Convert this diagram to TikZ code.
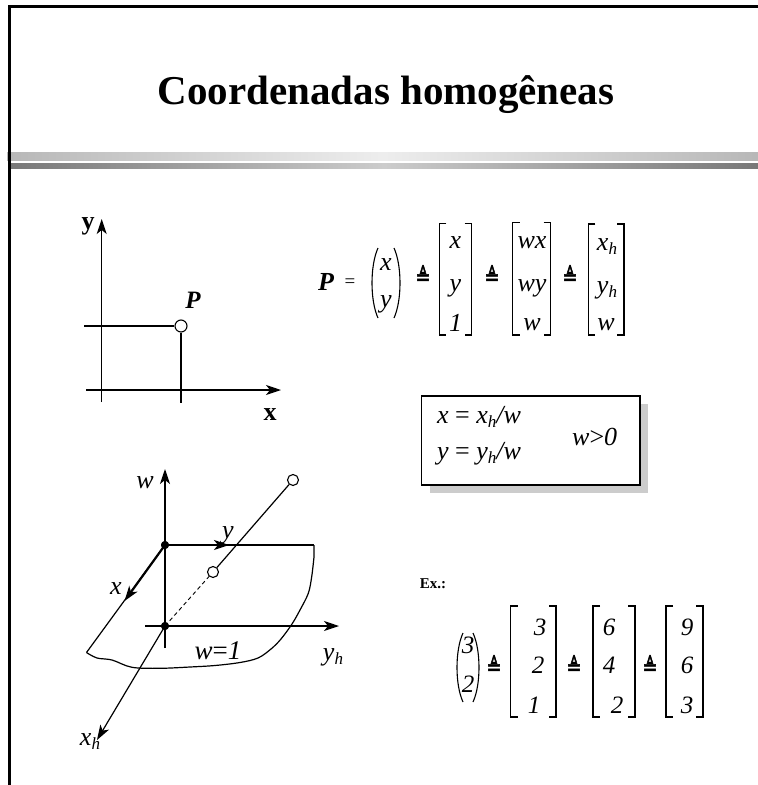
\documentclass[tikz,border=0pt]{standalone}
\usepackage{fontspec}
\usepackage{graphicx}
\setmainfont{Liberation Serif}
\setsansfont{Liberation Sans}
\newfontfamily\symfont[FakeBold=2.5]{DejaVu Sans}
\usetikzlibrary{arrows.meta}
\definecolor{barlightedge}{gray}{0.72}
\definecolor{barlightmid}{gray}{0.93}
\definecolor{bardarkedge}{gray}{0.47}
\definecolor{bardarkmid}{gray}{0.80}
\definecolor{shadowgray}{gray}{0.80}
\newcommand\subh{\raisebox{-4.5pt}{\fontsize{17}{17}\selectfont\itshape h}}
\newcommand\deqtxt{\scalebox{0.78}[1]{≜}}
\newcommand\sqbrk[4]{%
  \draw[brk] ({#1+7},#3) -- (#1,#3) -- (#1,#4) -- ({#1+7},#4);
  \draw[brk] ({#2-7},#3) -- (#2,#3) -- (#2,#4) -- ({#2-7},#4);}
\newcommand\rdparen[5]{% left-inner x, right-inner x, top, bottom, bulge
  \draw[brk] (#1,#3) .. controls ({#1-#5},{#3+0.25*(#4-#3)}) and ({#1-#5},{#3+0.75*(#4-#3)}) .. (#1,#4);
  \draw[brk] (#2,#3) .. controls ({#2+#5},{#3+0.25*(#4-#3)}) and ({#2+#5},{#3+0.75*(#4-#3)}) .. (#2,#4);}
\begin{document}
\begin{tikzpicture}[x=1pt,y=-1pt,
  ln/.style={line width=1.2pt},
  brk/.style={line width=1.1pt},
  arr/.style={line width=1.2pt,-{Stealth[length=15pt,width=10pt,inset=4pt]}},
  tarr/.style={line width=2.2pt,-{Stealth[length=15pt,width=10pt,inset=4pt]}},
  opc/.style={circle,draw,fill=white,line width=1.1pt,minimum size=12pt,inner sep=0pt},
  dotn/.style={circle,fill=black,minimum size=8pt,inner sep=0pt},
  ent/.style={font=\fontsize{26}{26}\selectfont\itshape,inner sep=0pt,anchor=base},
  dig/.style={font=\fontsize{25}{25}\selectfont\itshape,inner sep=0pt,anchor=base},
  lbl/.style={font=\fontsize{26}{26}\selectfont\itshape,inner sep=0pt,anchor=base},
  blbl/.style={font=\fontsize{26}{26}\selectfont\bfseries,inner sep=0pt,anchor=base},
  deqst/.style={font=\fontsize{23}{23}\selectfont\symfont,inner sep=0pt}]
\useasboundingbox (0,0) rectangle (758,785);
% bars
\shade[left color=barlightedge,right color=barlightedge,middle color=barlightmid] (7,152) rectangle (758,160);
\shade[left color=bardarkedge,right color=bardarkedge,middle color=bardarkmid] (10,163) rectangle (758,168.5);
% frame
\draw[line width=3pt] (762,6) -- (9,6) -- (9,785);
% title
\node[font=\fontsize{41}{41}\selectfont\bfseries,anchor=base,inner sep=0pt] (title) at (386,104) {Coordenadas homogêneas};

% ---- 2D axes
\coordinate (ya0) at (101.7,402);
\coordinate (ya1) at (101.7,219);
\coordinate (xa0) at (86,390);
\coordinate (xa1) at (281,390);
\draw[arr] (ya0) -- (ya1);
\draw[arr] (xa0) -- (xa1);
\node[opc] (P) at (181,326) {};
\coordinate (hl0) at (84,326);
\coordinate (vl0) at (181,403);
\draw[ln] (hl0) -- (P.west);
\draw[ln] (P.south) -- (vl0);
\node[blbl] (ylab) at (88,229) {y};
\node[blbl] (xlab) at (270,420) {x};
\node[blbl,font=\fontsize{25}{25}\selectfont\bfseries\itshape] (Plab) at (193,308) {P};

% ---- equation
\node[font=\fontsize{26}{26}\selectfont\bfseries\itshape,inner sep=0pt,anchor=base] (Peq) at (326,290) {P};
\node[font=\fontsize{19}{19}\selectfont,inner sep=0pt] (eqs) at (350,283) {=};
\rdparen{378}{394}{248}{318}{8}
\node[ent] (v1) at (386,270) {x};
\node[ent] (v2) at (386,307) {y};
\node[deqst] (d1) at (423,275) {\deqtxt};
\sqbrk{439.3}{471.7}{223.3}{335}
\node[ent] (a1) at (455.5,248.3) {x};
\node[ent] (a2) at (455.5,291.5) {y};
\node[ent] (a3) at (455.5,331) {1};
\node[deqst] (d2) at (492,275) {\deqtxt};
\sqbrk{512.7}{550.7}{222.7}{335}
\node[ent] (b1) at (532,248.3) {wx};
\node[ent] (b2) at (532,291.5) {wy};
\node[ent] (b3) at (532,330) {w};
\node[deqst] (d3) at (570,275) {\deqtxt};
\sqbrk{588.3}{624}{224}{335}
\node[ent] (c1) at (607,250) {x\subh};
\node[ent] (c2) at (607,293) {y\subh};
\node[ent] (c3) at (606,330) {w};

% ---- box
\fill[shadowgray] (430,404) rectangle (648,493);
\draw[fill=white,line width=1.1pt] (421.7,396) rectangle (640,485);
\node[lbl,anchor=base west] (bx1) at (437,423) {x {\upshape=} x\subh/w};
\node[lbl,anchor=base west] (bx2) at (437,459) {y {\upshape=} y\subh/w};
\node[lbl,anchor=base west] (bx3) at (572,445) {w{\upshape >}0};

% ---- 3D diagram
\coordinate (wb) at (165,648);
\coordinate (wt) at (165,469);
\draw[arr] (wb) -- (wt);
\node[dotn] (o1) at (165,545) {};
\node[dotn] (o0) at (165,626) {};
\coordinate (pTR) at (314,545);
\coordinate (pBL) at (86.5,652.5);
\draw[ln] (o1.center) -- (pTR);
\draw[ln] (pTR) -- (314,557) plot[smooth,tension=0.55] coordinates {(314,557) (311.7,576.7) (308.3,593.3) (300,610) (292,624) (281,639) (271,649) (258,658) (240,662.5) (215,665.5) (190,667) (160,668.3) (132,667.3) (112,660) (97,658) (86.5,652.5)};
\draw[ln] (o1.center) -- (pBL);
\coordinate (xtip) at (124.5,601);
\coordinate (ytip) at (229,545);
\draw[tarr] (o1.center) -- (xtip);
\draw[tarr] (o1.center) -- (ytip);
\coordinate (yh0) at (145,626);
\coordinate (yh1) at (339,626);
\draw[arr] (yh0) -- (yh1);
\coordinate (xh1) at (97,740);
\draw[arr] (o0.center) -- (xh1);
\node[opc,minimum size=11pt] (q1) at (213,572) {};
\node[opc,minimum size=11pt] (q2) at (293,480) {};
\draw[ln] (q1) -- (q2);
\draw[line width=0.9pt,dash pattern=on 4pt off 3pt] (o0.center) -- (q1);
\node[dotn] at (o1) {};
\node[dotn] at (o0) {};
\node[lbl] (wlab) at (145,488) {w};
\node[lbl] (ylab3) at (228,538) {y};
\node[lbl] (xlab3) at (116,594) {x};
\node[lbl,font=\fontsize{27}{27}\selectfont\itshape] (w1lab) at (218,659) {w{\upshape =}1};
\node[lbl] (yhlab) at (333,660) {y\subh};
\node[lbl] (xhlab) at (90,745) {x\subh};

% ---- example
\node[font=\fontsize{15}{15}\selectfont\bfseries,inner sep=0pt,anchor=base] (ex) at (433,588) {Ex.:};
\rdparen{463}{473}{633}{702}{8}
\node[dig] (e1) at (468,653) {3};
\node[dig] (e2) at (468,692) {2};
\node[deqst] (f1) at (494,665) {\deqtxt};
\sqbrk{510.7}{556}{606}{717}
\node[dig] (g1) at (540,635) {3};
\node[dig] (g2) at (538,673) {2};
\node[dig] (g3) at (534,713) {1};
\node[deqst] (f2) at (574,665) {\deqtxt};
\sqbrk{593}{635}{606}{717}
\node[dig] (h1) at (609,635) {6};
\node[dig] (h2) at (609,673) {4};
\node[dig] (h3) at (617,713) {2};
\node[deqst] (f3) at (650,665) {\deqtxt};
\sqbrk{666}{703}{606}{717}
\node[dig] (k1) at (687,635) {9};
\node[dig] (k2) at (687,673) {6};
\node[dig] (k3) at (687,713) {3};
\end{tikzpicture}
\end{document}
